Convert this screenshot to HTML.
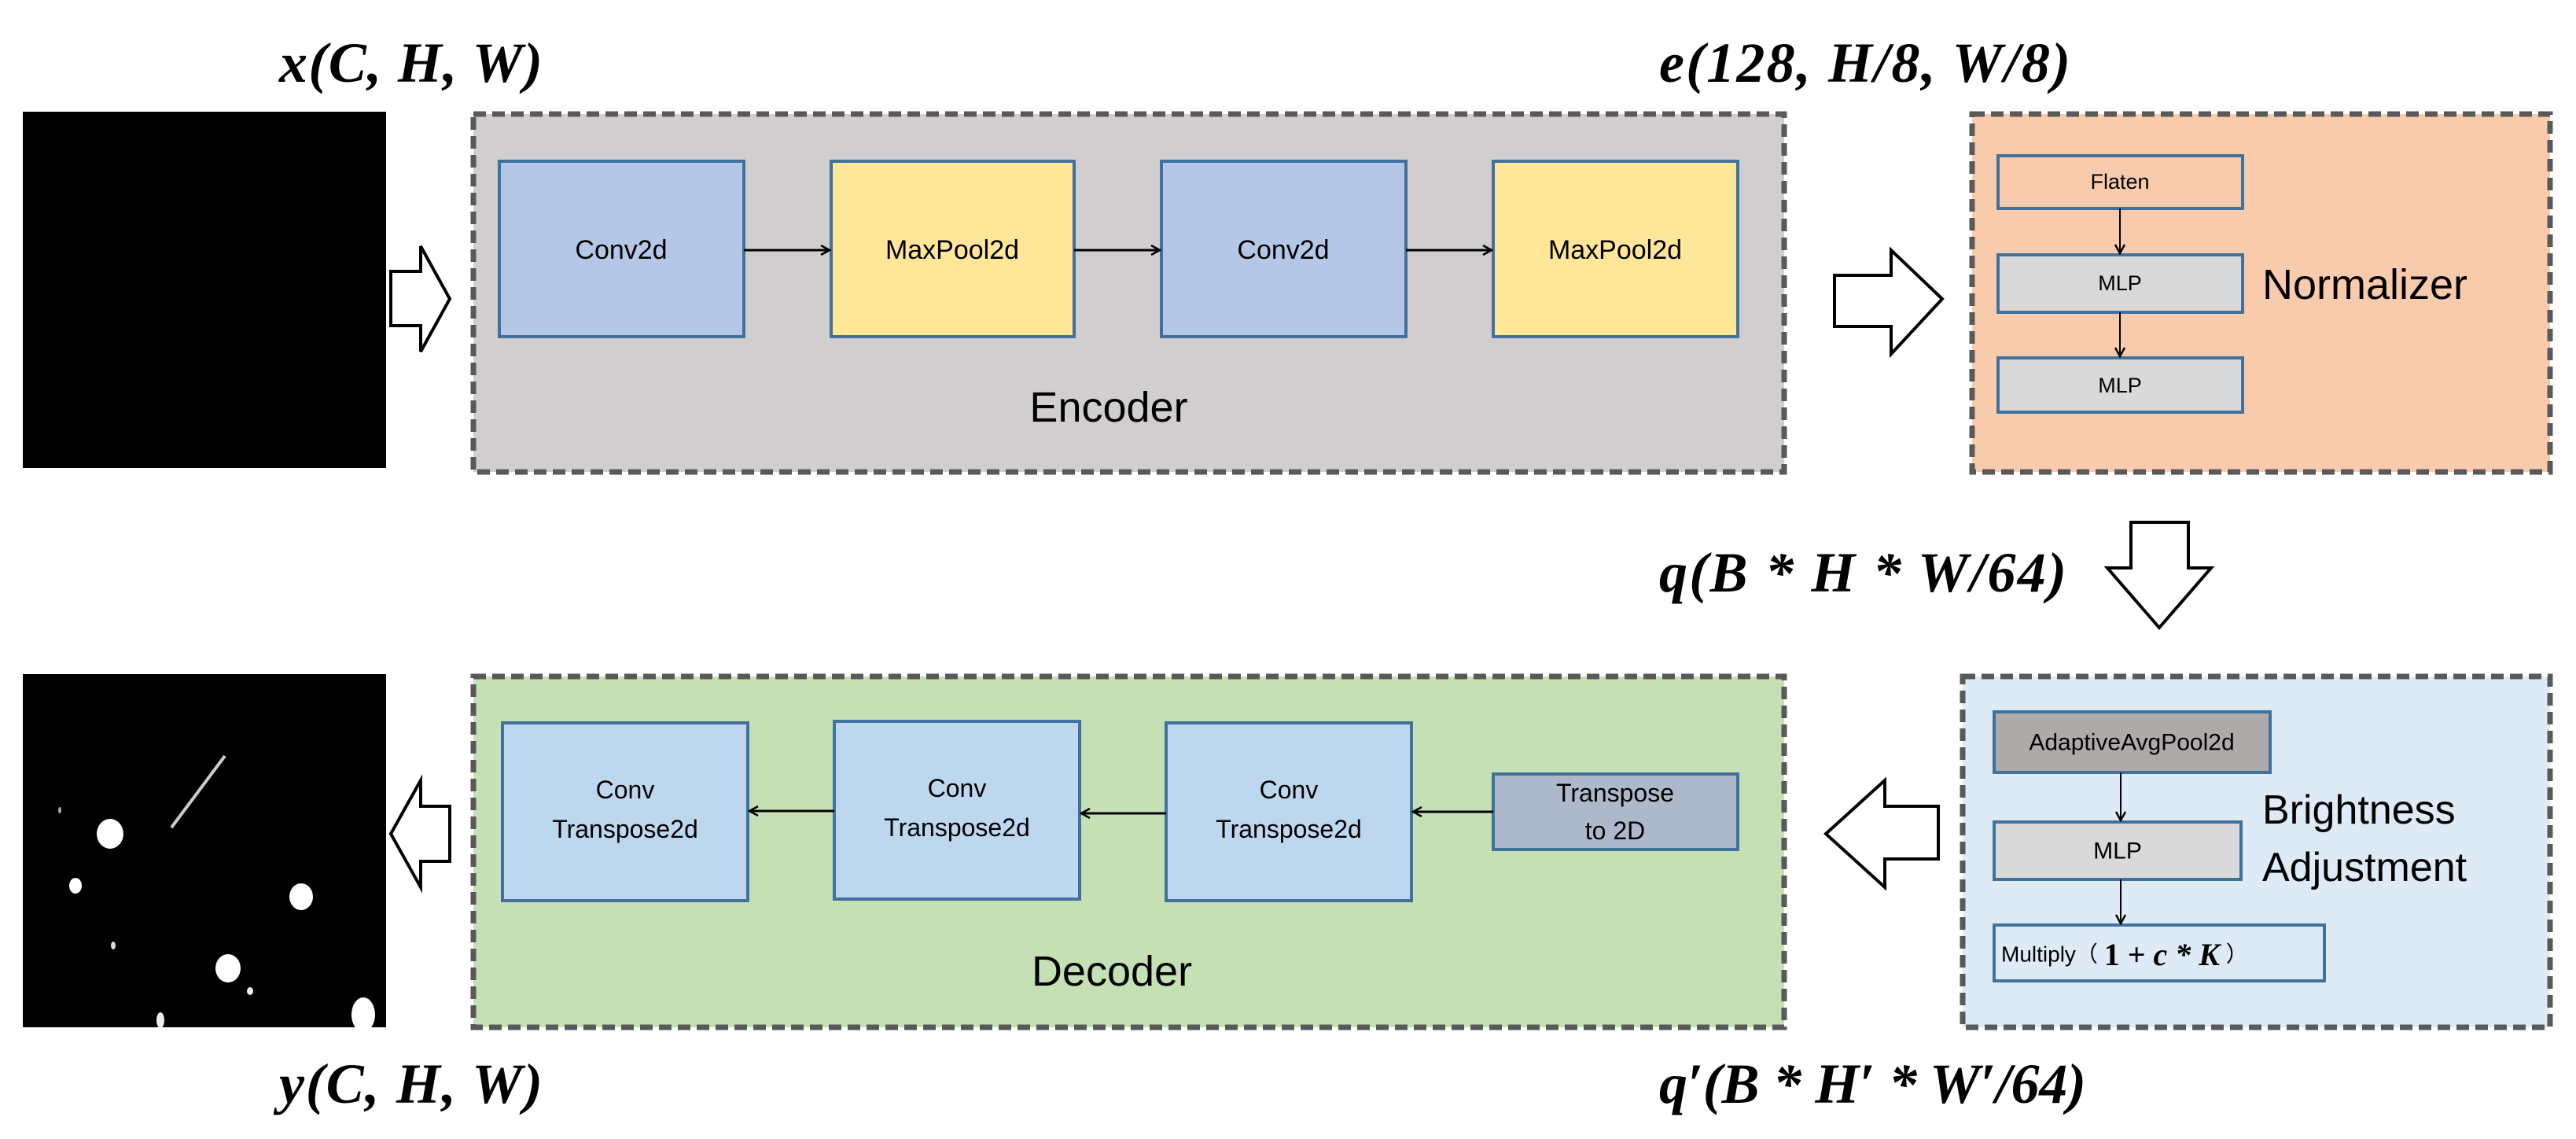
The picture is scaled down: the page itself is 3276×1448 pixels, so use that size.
<!DOCTYPE html>
<html><head><meta charset="utf-8"><style>
html,body{margin:0;padding:0;background:#fff;}
svg{display:block}
.m{font-family:"Liberation Serif",serif;font-style:italic;font-weight:bold;font-size:72px;fill:#000}
.t{font-family:"Liberation Sans Narrow","Liberation Sans",sans-serif;fill:#000;text-anchor:middle;dominant-baseline:central}
.b{stroke:#41719c;stroke-width:4}
.d{stroke:#595959;stroke-width:7;stroke-dasharray:16 8}
</style></head><body>
<svg width="3276" height="1448" viewBox="0 0 3276 1448" xmlns="http://www.w3.org/2000/svg">
<defs><marker id="ah" markerWidth="14" markerHeight="14" refX="12" refY="7" orient="auto" markerUnits="userSpaceOnUse"><path d="M1,1 L12,7 L1,13" fill="none" stroke="#000" stroke-width="2.5"/></marker></defs>

<text class="m" x="355" y="104" textLength="335">x(C, H, W)</text>
<text class="m" x="2110" y="104" textLength="523">e(128, H/8, W/8)</text>
<text class="m" x="2110" y="752" textLength="518">q(B * H * W/64)</text>
<text class="m" x="355" y="1402" textLength="335">y(C, H, W)</text>
<text class="m" x="2110" y="1402" textLength="543">q′(B * H′ * W′/64)</text>

<rect x="29" y="142" width="462" height="453" fill="#000"/>
<rect x="29" y="857" width="462" height="449" fill="#000"/>
<line x1="286" y1="961" x2="218" y2="1052" stroke="#ccc" stroke-width="4"/>
<ellipse cx="140" cy="1060" rx="17" ry="19" fill="#fff"/>
<ellipse cx="96" cy="1126" rx="8" ry="10" fill="#fff"/>
<ellipse cx="383" cy="1140" rx="15" ry="17" fill="#fff"/>
<ellipse cx="144" cy="1202" rx="3" ry="5" fill="#ddd"/>
<ellipse cx="290" cy="1231" rx="16" ry="18" fill="#fff"/>
<ellipse cx="318" cy="1260" rx="4" ry="5" fill="#eee"/>
<ellipse cx="204" cy="1297" rx="5" ry="10" fill="#eee"/>
<ellipse cx="462" cy="1290" rx="15" ry="22" fill="#fff"/>
<ellipse cx="76" cy="1030" rx="2" ry="4" fill="#aaa"/>

<path d="M497,345 L535,345 L535,313 L572,380 L535,447 L535,414 L497,414 Z" fill="#fff" stroke="#000" stroke-width="4"/>
<path d="M2333,350 L2405,350 L2405,318 L2470,380 L2405,450 L2405,415 L2333,415 Z" fill="#fff" stroke="#000" stroke-width="4"/>
<path d="M2710,664 L2783,664 L2783,722 L2812,722 L2746,798 L2680,722 L2710,722 Z" fill="#fff" stroke="#000" stroke-width="4"/>
<path d="M2465,1025 L2397,1025 L2397,992 L2322,1060 L2397,1128 L2397,1092 L2465,1092 Z" fill="#fff" stroke="#000" stroke-width="4"/>
<path d="M572,1025 L535,1025 L535,992 L497,1060 L535,1128 L535,1095 L572,1095 Z" fill="#fff" stroke="#000" stroke-width="4"/>

<rect class="d" x="602" y="145" width="1667" height="455" fill="#d0cece"/>
<rect class="b" x="635" y="205" width="311" height="223" fill="#b4c7e7"/>
<rect class="b" x="1057" y="205" width="309" height="223" fill="#ffe699"/>
<rect class="b" x="1477" y="205" width="311" height="223" fill="#b4c7e7"/>
<rect class="b" x="1899" y="205" width="311" height="223" fill="#ffe699"/>
<text class="t" x="790" y="318" font-size="34">Conv2d</text>
<text class="t" x="1211" y="318" font-size="34">MaxPool2d</text>
<text class="t" x="1632" y="318" font-size="34">Conv2d</text>
<text class="t" x="2054" y="318" font-size="34">MaxPool2d</text>
<g stroke="#000" stroke-width="3" marker-end="url(#ah)">
<line x1="946" y1="318" x2="1055" y2="318"/>
<line x1="1366" y1="318" x2="1475" y2="318"/>
<line x1="1788" y1="318" x2="1897" y2="318"/>
</g>
<text class="t" x="1410" y="518" font-size="54">Encoder</text>

<rect class="d" x="2508" y="145" width="735" height="455" fill="#f8cbad"/>
<rect class="b" x="2541" y="198" width="311" height="67" fill="#f8cbad"/>
<rect class="b" x="2541" y="324" width="311" height="73" fill="#d9d9d9"/>
<rect class="b" x="2541" y="455" width="311" height="69" fill="#d9d9d9"/>
<text class="t" x="2696" y="231" font-size="27">Flaten</text>
<text class="t" x="2696" y="360" font-size="27">MLP</text>
<text class="t" x="2696" y="490" font-size="27">MLP</text>
<g stroke="#000" stroke-width="2" marker-end="url(#ah)">
<line x1="2696" y1="265" x2="2696" y2="322"/>
<line x1="2696" y1="397" x2="2696" y2="453"/>
</g>
<text x="2877" y="362" font-family="Liberation Sans Narrow,Liberation Sans,sans-serif" font-size="54" dominant-baseline="central">Normalizer</text>

<rect class="d" x="602" y="860" width="1667" height="446" fill="#c5e0b4"/>
<rect class="b" x="639" y="919" width="312" height="226" fill="#bdd7ee"/>
<rect class="b" x="1061" y="917" width="312" height="226" fill="#bdd7ee"/>
<rect class="b" x="1483" y="919" width="312" height="226" fill="#bdd7ee"/>
<rect class="b" x="1899" y="984" width="311" height="96" fill="#adb9ca"/>
<g font-size="32">
<text class="t" x="795" y="1004">Conv</text><text class="t" x="795" y="1054">Transpose2d</text>
<text class="t" x="1217" y="1002">Conv</text><text class="t" x="1217" y="1052">Transpose2d</text>
<text class="t" x="1639" y="1004">Conv</text><text class="t" x="1639" y="1054">Transpose2d</text>
<text class="t" x="2054" y="1008">Transpose</text><text class="t" x="2054" y="1056">to 2D</text>
</g>
<g stroke="#000" stroke-width="3" marker-end="url(#ah)">
<line x1="1899" y1="1032" x2="1797" y2="1032"/>
<line x1="1483" y1="1034" x2="1375" y2="1034"/>
<line x1="1061" y1="1031" x2="953" y2="1031"/>
</g>
<text class="t" x="1414" y="1235" font-size="54">Decoder</text>

<rect class="d" x="2496" y="860" width="747" height="446" fill="#deebf7"/>
<rect class="b" x="2536" y="905" width="351" height="77" fill="#aeaaaa"/>
<rect class="b" x="2536" y="1045" width="314" height="73" fill="#d9d9d9"/>
<rect class="b" x="2536" y="1176" width="420" height="71" fill="#deebf7"/>
<text class="t" x="2711" y="944" font-size="30">AdaptiveAvgPool2d</text>
<text class="t" x="2693" y="1082" font-size="30">MLP</text>
<text x="2545" y="1213" font-family="Liberation Sans Narrow,Liberation Sans,sans-serif" font-size="28" dominant-baseline="central">Multiply（ <tspan font-family="Liberation Serif,serif" font-weight="bold" font-size="40">1 + <tspan font-style="italic">c * K</tspan></tspan> ）</text>
<g stroke="#000" stroke-width="2" marker-end="url(#ah)">
<line x1="2697" y1="982" x2="2697" y2="1043"/>
<line x1="2697" y1="1118" x2="2697" y2="1174"/>
</g>
<text x="2877" y="1030" font-family="Liberation Sans Narrow,Liberation Sans,sans-serif" font-size="52" dominant-baseline="central">Brightness</text>
<text x="2877" y="1103" font-family="Liberation Sans Narrow,Liberation Sans,sans-serif" font-size="52" dominant-baseline="central">Adjustment</text>
</svg>
</body></html>
